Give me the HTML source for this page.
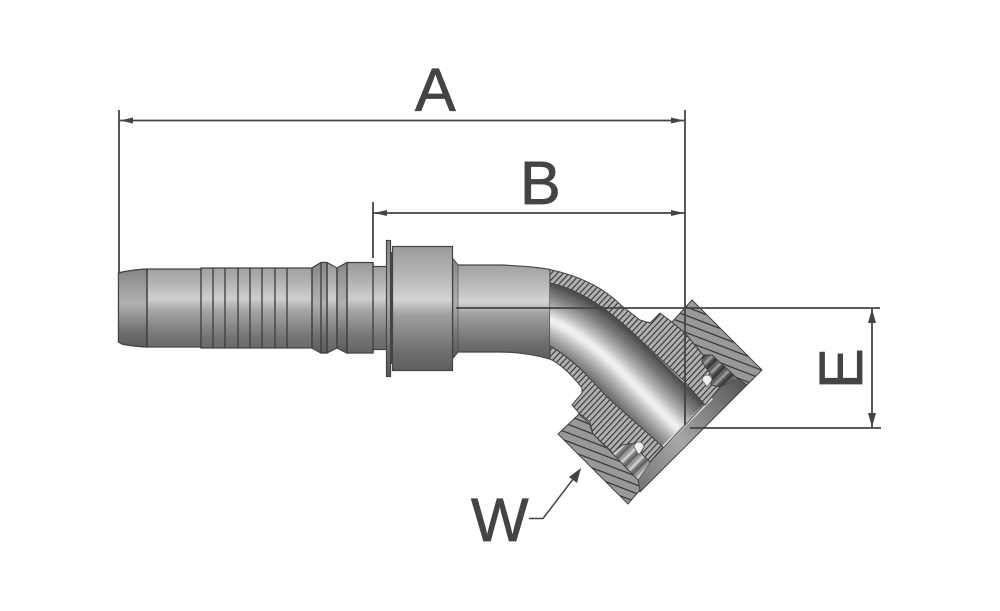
<!DOCTYPE html>
<html><head><meta charset="utf-8"><style>
html,body{margin:0;padding:0;background:#fff;width:1000px;height:611px;overflow:hidden}
svg{display:block}
text{font-family:"Liberation Sans",sans-serif;font-size:61px;fill:#444;stroke:#444;stroke-width:.8px}
</style></head><body>
<svg width="1000" height="611" viewBox="0 0 1000 611" xmlns="http://www.w3.org/2000/svg">
<defs>
<linearGradient id="g1" x1="0" y1="0" x2="0" y2="1">
<stop offset="0" stop-color="#999"/><stop offset=".2" stop-color="#b0b0b0"/><stop offset=".4" stop-color="#cfcfcf"/><stop offset=".52" stop-color="#a8a8a8"/><stop offset=".8" stop-color="#777"/><stop offset="1" stop-color="#646464"/>
</linearGradient>
<linearGradient id="g2" x1="0" y1="0" x2="0" y2="1">
<stop offset="0" stop-color="#9a9a9a"/><stop offset=".25" stop-color="#b8b8b8"/><stop offset=".43" stop-color="#d4d4d4"/><stop offset=".55" stop-color="#a0a0a0"/><stop offset=".85" stop-color="#6e6e6e"/><stop offset="1" stop-color="#5e5e5e"/>
</linearGradient>
<linearGradient id="g3" x1="0" y1="0" x2="0" y2="1">
<stop offset="0" stop-color="#868686"/><stop offset=".3" stop-color="#a4a4a4"/><stop offset=".45" stop-color="#b0b0b0"/><stop offset=".8" stop-color="#707070"/><stop offset="1" stop-color="#5c5c5c"/>
</linearGradient>
<linearGradient id="face" gradientUnits="userSpaceOnUse" x1="742" y1="378" x2="640" y2="485">
<stop offset="0" stop-color="#555"/><stop offset=".25" stop-color="#777"/><stop offset=".6" stop-color="#a8a8a8"/><stop offset="1" stop-color="#777"/>
</linearGradient>
<pattern id="h1" width="4.300" height="4.300" patternUnits="userSpaceOnUse" patternTransform="rotate(-47)">
<rect width="4.300" height="4.300" fill="#b0b0b0"/><rect width="4.300" height="1.100" fill="#333"/>
</pattern>
<pattern id="h2" width="12" height="8" patternUnits="userSpaceOnUse" patternTransform="rotate(21)">
<rect width="12" height="8" fill="#999"/><rect width="12" height="1.200" fill="#333"/>
</pattern>
<pattern id="thread" width="11" height="11" patternUnits="userSpaceOnUse" patternTransform="rotate(45)">
<rect width="3" height="11" fill="#666"/><rect x="3" width="3" height="11" fill="#999"/><rect x="6" width="3" height="11" fill="#c8c8c8"/><rect x="9" width="2" height="11" fill="#808080"/>
</pattern>
<pattern id="thread2" width="11" height="11" patternUnits="userSpaceOnUse" patternTransform="rotate(45)">
<rect width="3" height="11" fill="#3c3c3c"/><rect x="3" width="3" height="11" fill="#666"/><rect x="6" width="3" height="11" fill="#959595"/><rect x="9" width="2" height="11" fill="#555"/>
</pattern>
<filter id="bl" filterUnits="userSpaceOnUse" x="500" y="240" width="280" height="270"><feGaussianBlur stdDeviation="3"/></filter>
<clipPath id="bore"><path d="M550 283C578 289 605 307 630 330L707 405L663 447L607 397C590 378 572 358 550 346Z"/></clipPath>
</defs>
<rect width="1000" height="611" fill="#fff"/>

<!-- straight body -->
<g stroke="#444" stroke-width="1.200">
<path d="M118.500 273Q130 270 147 269L201 269V268H312L321 262.500H327L337 268L347 262.500H373V266.500H387V349.500H373V353H347L337 348L327 353H321L312 348H201V347L147 347Q130 346 122 344L118.500 342Z" fill="url(#g1)"/>
<path d="M118.500 273Q130 270 147 269V347Q130 346 122 344L118.500 342Z" fill="url(#g3)"/>
<path d="M312 268L321 262.500H327V353H321L312 348ZM337 268L347 262.500V353L337 348Z" fill="url(#g3)"/>
<path fill="none" stroke-width="1.300" stroke="#3c3c3c" d="M147 269V347M201 268V348M213 268V348M225 268V348M238 268V348M250 268V348M262 268V348M275 268V348M287 268V348M312 268V348M321 262.500V353M327 262.500V353M337 268V348M347 262.500V353M373 262.500V353"/>
<rect x="386.500" y="240.500" width="4" height="136" fill="url(#g3)"/>
<rect x="390" y="252" width="3" height="112" fill="#444" stroke="none"/>
<rect x="392.500" y="246.500" width="60" height="124" fill="url(#g2)"/>
<path d="M453 259L458 265H500Q530 266 550 269.500V359Q525 352 500 352H458L453 358Z" fill="url(#g2)"/>
<path d="M453 259L458 265V352L453 358Z" fill="url(#g3)" stroke-width=".6"/>
</g>

<!-- bore -->
<g clip-path="url(#bore)">
<rect x="540" y="270" width="190" height="190" fill="#4a4a4a"/>
<g fill="none" filter="url(#bl)" stroke-linecap="square">
<path d="M550 320C580 332 608 358 625 375L680 430" stroke="#707070" stroke-width="62"/>
<path d="M550 320C580 332 608 358 625 375L680 430" stroke="#929292" stroke-width="44"/>
<path d="M550 320C580 332 608 358 625 375L680 430" stroke="#b4b4b4" stroke-width="30"/>
<path d="M550 320C580 332 608 358 625 375L680 430" stroke="#d6d6d6" stroke-width="17"/>
<path d="M550 320C580 332 608 358 625 375L680 430" stroke="#f6f6f6" stroke-width="7"/>
</g>
</g>

<!-- right assembly -->
<g stroke="#444" stroke-width="1">
<!-- face strip -->
<path d="M705 405L720 387L737 378L747 385L640 492L638 480L650 462L663 447Z" fill="url(#face)"/>
<path d="M712 398L655 455" fill="none" stroke="#d8d8d8" stroke-width="3"/>
<path d="M720 388L650 462" fill="none" stroke="#555"/>
<!-- threads -->
<path d="M702 362L703 355L712 355L737 378L720 387L711 385L712 376Z" fill="url(#thread2)" stroke="none"/>
<path d="M613 454L622 445L636 443L644 447L641 453L650 462L638 480Z" fill="url(#thread)" stroke="none"/>
<!-- hatched body -->
<path d="M550 269.500C585 277 608 292 622 306L640 320L650 323L660 313L672 322L685 333L703 355L702 362L712 376L711 385L720 387L705 405L683 380L630 330C605 307 578 289 550 283Z" fill="url(#h1)"/>
<path d="M550 346C572 358 590 378 607 397L663 447L650 462L641 453L644 447L636 443L622 445L613 453L593 434L590 422L580 414L572 405L582 393V388C572 375 562 365 550 359Z" fill="url(#h1)"/>
<!-- nuts -->
<path d="M672 322L692 300L762 370L747 385L737 378L712 355L703 355L685 333Z" fill="url(#h2)"/>
<path d="M558 434L579 414L589 423L593 434L613 454L638 480L640 490L628 504Z" fill="url(#h2)"/>
</g>
<!-- balls -->
<path d="M702 380A5 5 0 0 1 712 380L707 387Z" fill="#eee" stroke="#666" stroke-width=".8"/>
<path d="M634 447A5 5 0 0 1 644 447L639 455Z" fill="#eee" stroke="#666" stroke-width=".8"/>

<!-- dimensions -->
<g stroke="#444" fill="none" stroke-width="1.800">
<path d="M119 110V273M685 110V425M373 202V258M119 120.500H685M373 213H685"/>
<path d="M456 308H880M690 428H881M872 308V428"/>
<path d="M529 518.500H543L580 470" stroke-width="1.500"/>
</g>
<g fill="#444">
<path d="M120 120.500L133 117.500V123.500ZM684 120.500L671 117.500V123.500ZM374 213L387 210V216ZM684 213L671 210V216Z"/>
<path d="M872 309L868 323H876ZM872 427L868 413H876Z"/>
<path d="M581 468L577 483L569 477Z"/>
</g>

<text x="415" y="111">A</text>
<text x="520" y="204">B</text>
<text transform="translate(862 389) rotate(-90)">E</text>
<text x="471" y="541">W</text>
</svg>
</body></html>
